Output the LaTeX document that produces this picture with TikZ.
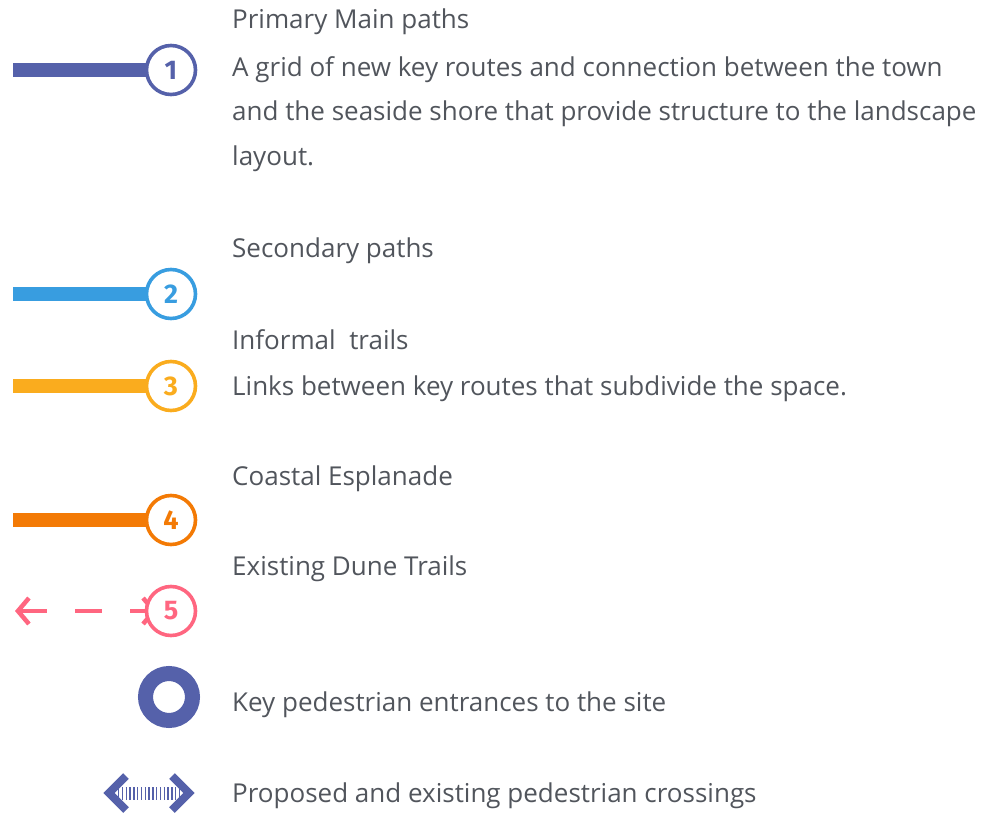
\documentclass[tikz,border=0pt]{standalone}
\usepackage{fontspec}
\setmainfont{Open Sans}
\newfontfamily\badgefont{Fira Sans}
\usetikzlibrary{arrows.meta,backgrounds}

\definecolor{routeone}{HTML}{5561AA}
\definecolor{routetwo}{HTML}{389DE0}
\definecolor{routethree}{HTML}{FAAC1E}
\definecolor{routefour}{HTML}{F37A05}
\definecolor{routefive}{HTML}{FF6680}
\definecolor{legendtext}{HTML}{51555C}

\begin{document}
\begin{tikzpicture}[
    x=1pt,y=-1pt,font=\fontsize{26}{30}\selectfont,
    route/.style={line width=14pt},
    badge/.style={circle,draw=#1,line width=3.6pt,fill=white,inner sep=0pt,
        minimum size=49pt,text=#1,font=\fontsize{27}{30}\badgefont\bfseries},
    caption/.style={anchor=base west,inner sep=0pt,text=legendtext},
    dune/.style={line width=4.5pt,dash pattern=on 27pt off 28pt,
        {Straight Barb[length=11pt,width=26pt,line width=4.5pt]}-{Straight Barb[length=11pt,width=26pt,line width=4.5pt]}},
    entrance/.style={circle,draw=routeone,line width=15pt,inner sep=0pt,minimum size=47pt},
    chevron/.style={routeone,line width=8pt,miter limit=10},
    hatch/.style={routeone,line width=13pt,dash pattern=on 1.4pt off 2.4pt}
]
    \useasboundingbox (0,0) rectangle (982,813);

    % Numbered route badges with their bars.
    \foreach \n/\y/\col in {1/70/routeone,2/294/routetwo,3/386/routethree,4/520/routefour,5/611/routefive}
        \node[badge=\col] (num\n) at (171,\y) {\n};
    \begin{scope}[on background layer]
        \foreach \n/\y/\col in {1/70/routeone,2/294/routetwo,3/386/routethree,4/520/routefour} {
            \coordinate (start\n) at (13,\y);
            \draw[route,\col] (start\n) -- (num\n.center);
        }
        \coordinate (start5) at (15,611);
        \coordinate (end5) at (157,611);
        \draw[dune,routefive] (start5) -- (end5);
    \end{scope}

    % Entrance ring and crossing symbol.
    \node[entrance] (gate) at (169,697) {};
    \coordinate (crossw) at (118,793);
    \coordinate (crosse) at (182,793);
    \draw[hatch] (crossw) -- (crosse);
    \draw[chevron] (126,776) -- (109,793) -- (126,810);
    \draw[chevron] (172,776) -- (189,793) -- (172,810);

    % Legend texts.
    \foreach \i/\y/\txt in {
        1/29/{Primary Main paths},
        2/77/{A grid of new key routes and connection between the town},
        3/121/{and the seaside shore that provide structure to the landscape},
        4/166/{layout.},
        5/257/{Secondary paths},
        6/349/{Informal\ \ trails},
        7/395/{Links between key routes that subdivide the space.},
        8/485/{Coastal Esplanade},
        9/575/{Existing Dune Trails},
        10/711/{Key pedestrian entrances to the site},
        11/802/{Proposed and existing pedestrian crossings}
    }
        \node[caption] (line\i) at (232,\y) {\txt};
\end{tikzpicture}
\end{document}
